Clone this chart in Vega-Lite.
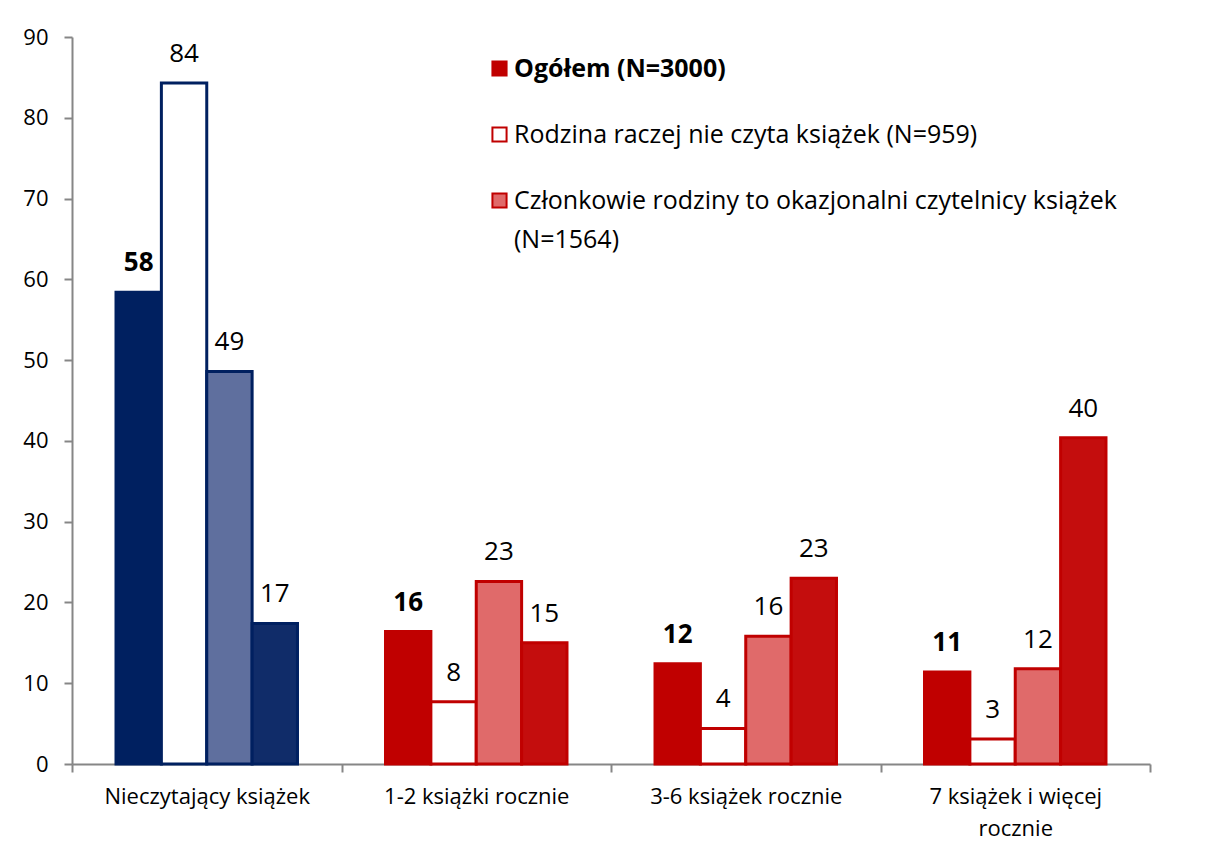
{
  "$schema": "https://vega.github.io/schema/vega-lite/v6.json",
  "width": 1078,
  "height": 727,
  "autosize": {"type": "none"},
  "padding": {"left": 72, "top": 37, "right": 56, "bottom": 87},
  "config": {"view": {"stroke": null}, "font": "Open Sans"},
  "data": {
    "values": [
      {"kategoria": "Nieczytający książek", "seria": "Ogółem (N=3000)", "wartosc": 58.4},
      {"kategoria": "Nieczytający książek", "seria": "Rodzina raczej nie czyta książek (N=959)", "wartosc": 84.3},
      {"kategoria": "Nieczytający książek", "seria": "Członkowie rodziny to okazjonalni czytelnicy książek (N=1564)", "wartosc": 48.6},
      {"kategoria": "Nieczytający książek", "seria": "Członkowie rodziny to regularni czytelnicy książek", "wartosc": 17.4},
      {"kategoria": "1-2 książki rocznie", "seria": "Ogółem (N=3000)", "wartosc": 16.4},
      {"kategoria": "1-2 książki rocznie", "seria": "Rodzina raczej nie czyta książek (N=959)", "wartosc": 7.7},
      {"kategoria": "1-2 książki rocznie", "seria": "Członkowie rodziny to okazjonalni czytelnicy książek (N=1564)", "wartosc": 22.6},
      {"kategoria": "1-2 książki rocznie", "seria": "Członkowie rodziny to regularni czytelnicy książek", "wartosc": 15.0},
      {"kategoria": "3-6 książek rocznie", "seria": "Ogółem (N=3000)", "wartosc": 12.4},
      {"kategoria": "3-6 książek rocznie", "seria": "Rodzina raczej nie czyta książek (N=959)", "wartosc": 4.4},
      {"kategoria": "3-6 książek rocznie", "seria": "Członkowie rodziny to okazjonalni czytelnicy książek (N=1564)", "wartosc": 15.8},
      {"kategoria": "3-6 książek rocznie", "seria": "Członkowie rodziny to regularni czytelnicy książek", "wartosc": 23.0},
      {"kategoria": "7 książek i więcej rocznie", "seria": "Ogółem (N=3000)", "wartosc": 11.4},
      {"kategoria": "7 książek i więcej rocznie", "seria": "Rodzina raczej nie czyta książek (N=959)", "wartosc": 3.1},
      {"kategoria": "7 książek i więcej rocznie", "seria": "Członkowie rodziny to okazjonalni czytelnicy książek (N=1564)", "wartosc": 11.8},
      {"kategoria": "7 książek i więcej rocznie", "seria": "Członkowie rodziny to regularni czytelnicy książek", "wartosc": 40.4}
    ]
  },
  "encoding": {
    "x": {
      "field": "kategoria",
      "type": "nominal",
      "sort": ["Nieczytający książek", "1-2 książki rocznie", "3-6 książek rocznie", "7 książek i więcej rocznie"],
      "scale": {"paddingInner": 0, "paddingOuter": 0},
      "axis": {
        "title": null,
        "labelAngle": 0,
        "tickBand": "extent",
        "tickSize": 8,
        "domainColor": "#868686",
        "domainWidth": 2,
        "tickColor": "#868686",
        "tickWidth": 2,
        "labelFontSize": 22,
        "labelPadding": 14,
        "labelColor": "#000000",
        "labelLimit": 400,
        "labelLineHeight": 32,
        "labelExpr": "datum.value == '7 książek i więcej rocznie' ? ['7 książek i więcej', 'rocznie'] : datum.value"
      }
    },
    "xOffset": {
      "field": "seria",
      "type": "nominal",
      "sort": ["Ogółem (N=3000)", "Rodzina raczej nie czyta książek (N=959)", "Członkowie rodziny to okazjonalni czytelnicy książek (N=1564)", "Członkowie rodziny to regularni czytelnicy książek"],
      "scale": {"paddingInner": 0, "paddingOuter": 0.97}
    },
    "y": {
      "field": "wartosc",
      "type": "quantitative",
      "scale": {"domain": [0, 90], "nice": false},
      "axis": {
        "title": null,
        "values": [0, 10, 20, 30, 40, 50, 60, 70, 80, 90],
        "grid": false,
        "domainColor": "#868686",
        "domainWidth": 2,
        "tickColor": "#868686",
        "tickWidth": 2,
        "tickSize": 8,
        "labelFontSize": 22,
        "labelPadding": 16,
        "labelColor": "#000000"
      }
    }
  },
  "layer": [
    {
      "transform": [{"filter": "datum.kategoria == 'Nieczytający książek'"}],
      "mark": {"type": "bar", "stroke": "#002060", "strokeWidth": 3},
      "encoding": {
        "fill": {
          "condition": [
            {"test": "datum.seria == 'Rodzina raczej nie czyta książek (N=959)'", "value": "#ffffff"},
            {"test": "datum.seria == 'Członkowie rodziny to okazjonalni czytelnicy książek (N=1564)'", "value": "#5f6f9e"},
            {"test": "datum.seria == 'Członkowie rodziny to regularni czytelnicy książek'", "value": "#102c69"}
          ],
          "value": "#002060"
        }
      }
    },
    {
      "transform": [{"filter": "datum.kategoria != 'Nieczytający książek'"}],
      "mark": {"type": "bar", "stroke": "#C00000", "strokeWidth": 3},
      "encoding": {
        "fill": {
          "field": "seria",
          "type": "nominal",
          "scale": {
            "domain": ["Ogółem (N=3000)", "Rodzina raczej nie czyta książek (N=959)", "Członkowie rodziny to okazjonalni czytelnicy książek (N=1564)", "Członkowie rodziny to regularni czytelnicy książek"],
            "range": ["#C00000", "#ffffff", "#e06a6a", "#c40d0d"]
          },
          "legend": {
            "orient": "none",
            "legendX": 415,
            "legendY": 19,
            "title": null,
            "values": ["Ogółem (N=3000)", "Rodzina raczej nie czyta książek (N=959)", "Członkowie rodziny to okazjonalni czytelnicy książek (N=1564)"],
            "symbolType": "square",
            "symbolSize": 200,
            "symbolStrokeColor": "#C00000",
            "symbolStrokeWidth": 2,
            "symbolOpacity": 1,
            "labelFontSize": 25,
            "labelColor": "#000000",
            "labelLimit": 800,
            "labelOffset": 2,
            "rowPadding": 40,
            "labelExpr": "datum.label == 'Członkowie rodziny to okazjonalni czytelnicy książek (N=1564)' ? ['Członkowie rodziny to okazjonalni czytelnicy książek', '(N=1564)'] : datum.label",
            "encode": {
              "labels": {
                "update": {
                  "fontWeight": {"signal": "datum.value == 'Ogółem (N=3000)' ? 'bold' : 'normal'"},
                  "lineHeight": {"value": 39}
                }
              }
            }
          }
        }
      }
    },
    {
      "transform": [{"filter": "datum.seria == 'Ogółem (N=3000)'"}],
      "mark": {"type": "text", "baseline": "bottom", "dy": -16, "fontSize": 26, "fontWeight": "bold", "color": "#000000"},
      "encoding": {"text": {"field": "wartosc", "type": "quantitative", "format": ".0f"}}
    },
    {
      "transform": [{"filter": "datum.seria != 'Ogółem (N=3000)'"}],
      "mark": {"type": "text", "baseline": "bottom", "dy": -16, "fontSize": 26, "color": "#000000"},
      "encoding": {"text": {"field": "wartosc", "type": "quantitative", "format": ".0f"}}
    }
  ]
}
